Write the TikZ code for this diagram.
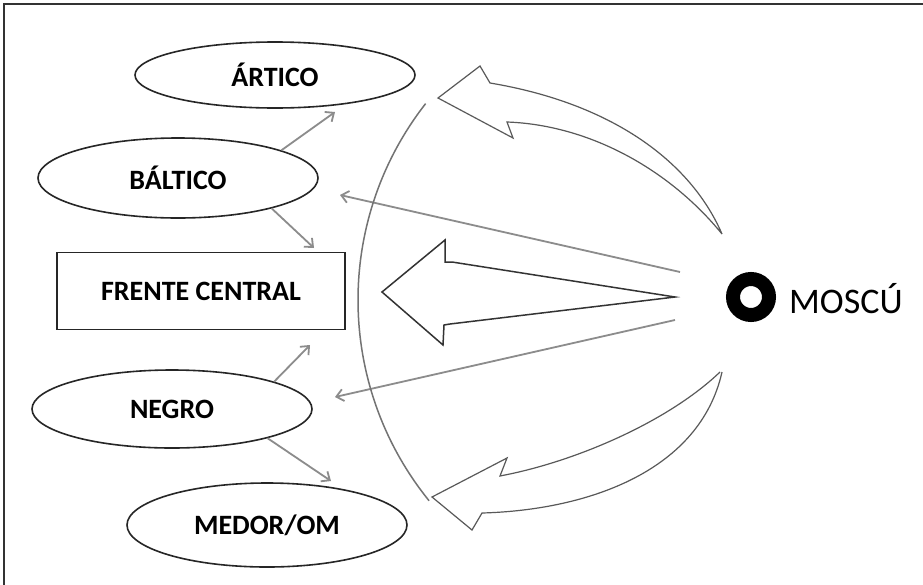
\documentclass[tikz,border=0pt]{standalone}
\usepackage{fontspec}
\setmainfont{Carlito}
\usetikzlibrary{shapes.geometric,arrows.meta}
\begin{document}
\begin{tikzpicture}[x=1pt,y=-1pt,
  region/.style={draw=black!85,line width=1.6pt,ellipse,minimum width=280pt,inner sep=0pt,
    font=\bfseries\fontsize{28}{30}\selectfont},
  boxnode/.style={draw=black!85,line width=1.6pt,rectangle,minimum width=288pt,minimum height=77pt,inner sep=0pt,
    font=\bfseries\fontsize{28}{30}\selectfont},
  gl/.style={draw=black!45,line width=1.8pt,-{Straight Barb[length=7pt,width=12pt,line width=1.8pt]}},
  blockarrow/.style={draw=black!80,line width=1.5pt,line join=miter},
  curvearrow/.style={draw=black!65,line width=1.2pt,line join=miter},
  arcline/.style={draw=black!55,line width=1.5pt}]
\useasboundingbox (0,0) rectangle (923,584);
\fill[white] (0,0) rectangle (923,584);
% frame (only top and left edges show)
\draw[black!80,line width=1.6pt] (4,590) -- (4,4) -- (930,4);

% region nodes
\node[region,minimum height=66pt] (artico) at (275,75) {ÁRTICO};
\node[region,minimum height=80pt] (baltico) at (178,178) {BÁLTICO};
\node[boxnode] (frente) at (201,291) {FRENTE CENTRAL};
\node[region,minimum height=78pt] (negro) at (172,409) {NEGRO};
\node[region,minimum height=84pt] (medor) at (267,525) {MEDOR/OM};

% Moscow
\node[circle,draw=black,line width=14pt,minimum size=36pt,inner sep=0pt] (moscow) at (751,297) {};
\node[anchor=west,font=\fontsize{36}{38}\selectfont,inner sep=0pt] (moscu) at (789,299) {MOSCÚ};

% coordinates
\coordinate (mo1) at (680,272);
\coordinate (mo2) at (675,320);
\coordinate (baltip) at (340,195);
\coordinate (negtip) at (335,397);
\coordinate (artip) at (335,112);
\coordinate (frtipA) at (314,248);
\coordinate (frtipB) at (310,345);
\coordinate (medtip) at (331,481);

% small connectors
\draw[gl] (baltico.15) -- (artip);
\draw[gl] (baltico.-18) -- (frtipA);
\draw[gl] (negro.15) -- (frtipB);
\draw[gl] (negro.-17) -- (medtip);

% long arrows from Moscow
\draw[gl] (mo1) -- (baltip);
\draw[gl] (mo2) -- (negtip);

% arc
\draw[arcline] (677,300) ++(141:319) arc[start angle=141,end angle=218,radius=319];

% big block arrow
\draw[blockarrow] (675,297) -- (452,262) -- (445,262) -- (445,240) -- (382,292) -- (443,345) -- (444,325) -- (450,324) -- cycle;

% top curved arrow
\draw[curvearrow] (722,234) .. controls (690,160) and (610,103) .. (490,83) -- (480,66) -- (438,98)
  -- (513,138) -- (507,122) .. controls (590,125) and (670,170) .. (722,234);

% bottom curved arrow
\draw[curvearrow] (720,372) .. controls (670,420) and (580,460) .. (505,475) -- (500,476) -- (507,458) -- (432,497)
  -- (472,530) -- (482,513) .. controls (590,510) and (700,470) .. (722,372);
\end{tikzpicture}
\end{document}
